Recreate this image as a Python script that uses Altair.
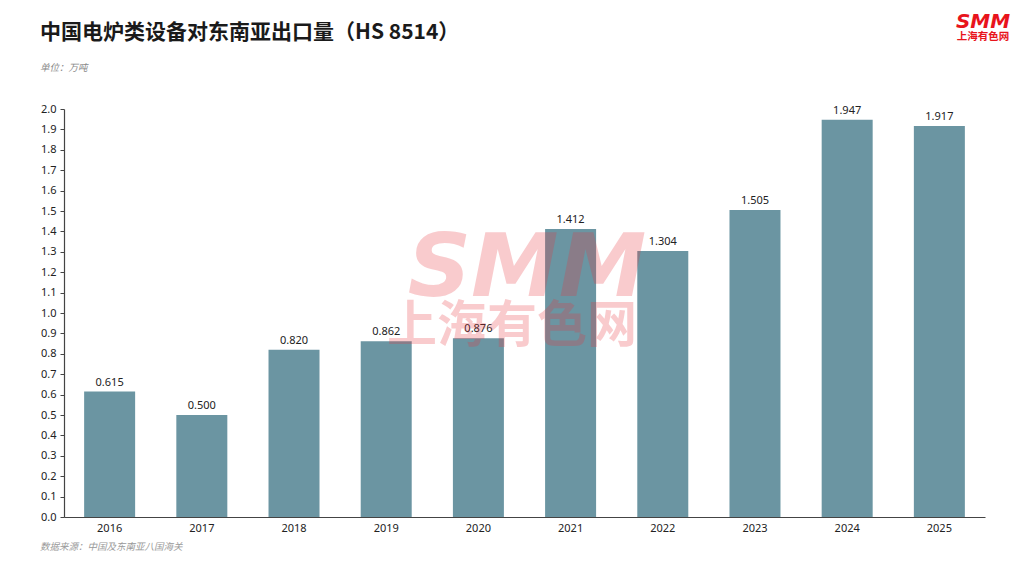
import altair as alt
import pandas as pd

years = ["2016", "2017", "2018", "2019", "2020", "2021", "2022", "2023", "2024", "2025"]
values = [0.615, 0.500, 0.820, 0.862, 0.876, 1.412, 1.304, 1.505, 1.947, 1.917]
y_ticks = [round(i * 0.1, 1) for i in range(21)]

title_text = "中国电炉类设备对东南亚出口量（HS 8514）"
unit_text = "单位：万吨"
source_text = "数据来源：中国及东南亚八国海关"

df = pd.DataFrame({"year": years, "value": values})

W, H = 921, 408
CJK = "Noto Sans CJK SC"
NUM = "Noto Sans"

x_enc = alt.X("year:N", sort=years, title=None,
              scale=alt.Scale(paddingInner=0.45, paddingOuter=0.22),
              axis=alt.Axis(labelAngle=0, ticks=False, domainColor="#444", domainWidth=1.2,
                            labelFont=NUM, labelFontSize=11, labelColor="#222", labelPadding=5))
y_enc = alt.Y("value:Q", title=None,
              scale=alt.Scale(domain=[0, 2.0], nice=False),
              axis=alt.Axis(values=y_ticks, format=".1f", grid=False, domainColor="#444",
                            domainWidth=1.2, tickColor="#444", tickSize=4, labelOverlap=False,
                            labelFont=NUM, labelFontSize=11, labelColor="#222", labelPadding=4))

base = alt.Chart(df)

bars = base.mark_bar(color="#6b95a2", size=51).encode(x=x_enc, y=y_enc)

labels = base.mark_text(dy=-9, font=NUM, fontSize=11, color="#222").encode(
    x=x_enc,
    y=y_enc,
    text=alt.Text("value:Q", format=".3f"),
)

def txt(text, x, y, **kw):
    return alt.Chart(pd.DataFrame({"t": [text]})).mark_text(**kw).encode(
        x=alt.value(x), y=alt.value(y), text="t:N")

title = txt(title_text, -24, -76, align="left", baseline="middle", font=CJK,
            fontSize=21, fontWeight="bold", color="#1a1a1a")
unit = txt(unit_text, -24, -41, align="left", baseline="middle", font=CJK,
           fontSize=9.5, fontStyle="italic", color="#888")
source = txt(source_text, -24, 438, align="left", baseline="middle", font=CJK,
             fontSize=9.5, fontStyle="italic", color="#999")
logo1 = txt("SMM", 919, -87, align="center", baseline="middle", font="DejaVu Sans",
            fontSize=20, fontWeight="bold", fontStyle="italic", color="#e8141c")
logo2 = txt("上海有色网", 919, -72, align="center", baseline="middle", font=CJK,
            fontSize=10.5, fontWeight="bold", color="#e8141c")
wm1 = txt("SMM", 463, 161, align="center", baseline="middle", font="DejaVu Sans",
          fontSize=88, fontWeight="bold", fontStyle="italic", color="#e8333c", opacity=0.25)
wm2 = txt("上海有色网", 448, 218, align="center", baseline="middle", font=CJK,
          fontSize=50, fontWeight="bold", color="#e8333c", opacity=0.25)

chart = alt.layer(bars, labels, wm1, wm2, title, unit, source, logo1, logo2).properties(
    width=W, height=H,
    background="white",
    autosize=alt.AutoSizeParams(type="none"),
    padding={"left": 56, "top": 101, "right": 31, "bottom": 51},
).configure_view(stroke=None, strokeWidth=0)

chart.save("out.html", embed_options={"renderer": "svg", "actions": False})
